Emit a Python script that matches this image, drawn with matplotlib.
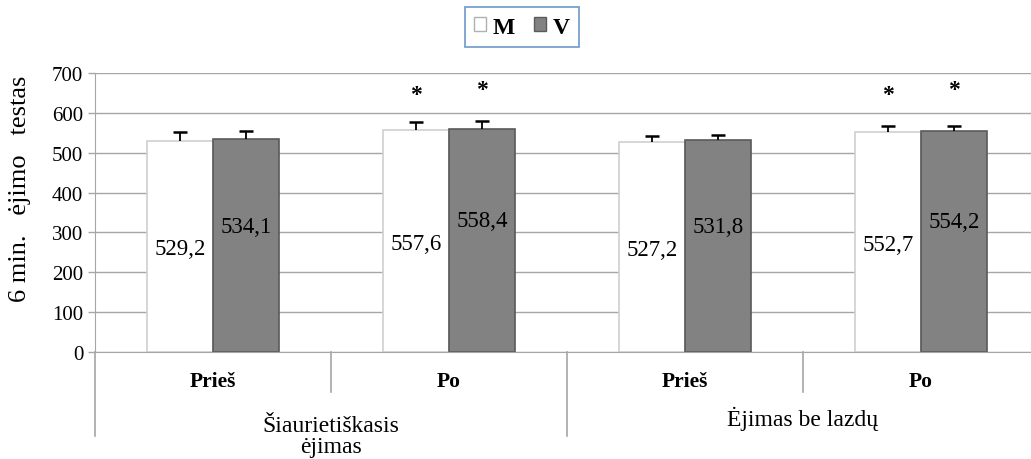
import matplotlib
matplotlib.use("Agg")
import matplotlib.pyplot as plt
from matplotlib.patches import Patch
from matplotlib.lines import Line2D
import numpy as np

plt.rcParams['font.family'] = ['Liberation Serif', 'DejaVu Serif']

# ---- data ----
subcats = ["Prieš", "Po", "Prieš", "Po"]
groups = ["Šiaurietiškasis\nėjimas", "Ėjimas be lazdų"]
series_names = ["M", "V"]
M_vals = [529.2, 557.6, 527.2, 552.7]
V_vals = [534.1, 558.4, 531.8, 554.2]
M_err = [22, 19, 14, 14]
V_err = [21, 22, 13, 13]
M_sig = [False, True, False, True]
V_sig = [False, True, False, True]
M_labels = ["529,2", "557,6", "527,2", "552,7"]
V_labels = ["534,1", "558,4", "531,8", "554,2"]
yticks = [0, 100, 200, 300, 400, 500, 600, 700]

W, H = 1031, 460
fig = plt.figure(figsize=(W / 100, H / 100), dpi=100)
ax = fig.add_axes([95 / W, (H - 353) / H, (1039 - 95) / W, (353 - 74) / H])

x = np.arange(len(subcats))
bw = 0.28
grid_c = "#a6a6a6"

ax.set_ylim(0, 700)
ax.set_xlim(-0.5, len(subcats) - 0.5)
ax.set_yticks(yticks)
ax.yaxis.grid(True, color=grid_c, lw=1.0)
ax.set_axisbelow(True)
for s in ["top", "right"]:
    ax.spines[s].set_visible(False)
ax.spines["left"].set_color(grid_c)
ax.spines["bottom"].set_color(grid_c)
ax.tick_params(axis="y", colors=grid_c, length=5, width=1, labelcolor="black", labelsize=15)
ax.tick_params(axis="x", length=0, labelbottom=False)

ax.bar(x - bw / 2, M_vals, bw, color="white", edgecolor="#d0d0d0", lw=1.2, zorder=2)
ax.bar(x + bw / 2, V_vals, bw, color="#828282", edgecolor="#5a5a5a", lw=1.2, zorder=2)

# upper-only error bars (T shape)
for xs, vals, errs in [(x - bw / 2, M_vals, M_err), (x + bw / 2, V_vals, V_err)]:
    tops = np.array(vals) + np.array(errs)
    ax.vlines(xs, vals, tops, color="black", lw=1.3, zorder=3)
    ax.plot(xs, tops, ls="none", marker="_", ms=10, mew=1.8, color="black", zorder=3)

for i in range(len(subcats)):
    ax.text(x[i] - bw / 2, M_vals[i] * 0.49, M_labels[i], ha="center", va="center",
            fontsize=16.5, zorder=4)
    ax.text(x[i] + bw / 2, V_vals[i] * 0.59, V_labels[i], ha="center", va="center",
            fontsize=16.5, zorder=4)
    if M_sig[i]:
        ax.text(x[i] - bw / 2, 647, "*", ha="center", va="center", fontsize=17,
                fontweight="bold", zorder=4)
    if V_sig[i]:
        ax.text(x[i] + bw / 2, 659, "*", ha="center", va="center", fontsize=17,
                fontweight="bold", zorder=4)

ax.set_ylabel("6 min.   ėjimo   testas", fontsize=19)
ax.yaxis.set_label_coords(-0.068, 0.588)

# category axis
tr = ax.get_xaxis_transform()
for i, lab in enumerate(subcats):
    ax.text(x[i], -0.104, lab, transform=tr, ha="center", va="center", fontsize=15.5,
            fontweight="bold")
# separators
for b in np.arange(-0.5, len(subcats), 1.0):
    if abs((b + 0.5) % 2) < 1e-9:
        ymin = -0.30
    else:
        ymin = -0.143
    ax.add_line(Line2D([b, b], [0, ymin], transform=tr, color=grid_c, lw=1.2, clip_on=False))

ax.text(0.5, -0.265, "Šiaurietiškasis", transform=tr, ha="center", va="center", fontsize=17)
ax.text(0.5, -0.34, "ėjimas", transform=tr, ha="center", va="center", fontsize=17)
ax.text(2.5, -0.235, groups[1], transform=tr, ha="center", va="center", fontsize=17)

handles = [Patch(facecolor="white", edgecolor="#b0b0b0", label=series_names[0]),
           Patch(facecolor="#828282", edgecolor="#5a5a5a", label=series_names[1])]
leg = fig.legend(handles=handles, loc="center", bbox_to_anchor=(522 / W, 1 - 28 / H),
                 ncol=2, frameon=True, fancybox=False, edgecolor="#4a7ebb",
                 prop={"size": 17, "weight": "bold"}, handlelength=0.5, handleheight=0.5,
                 handletextpad=0.3, columnspacing=0.8, borderpad=0.4)
leg.get_frame().set_linewidth(1.2)

fig.savefig("out.png", dpi=100)
